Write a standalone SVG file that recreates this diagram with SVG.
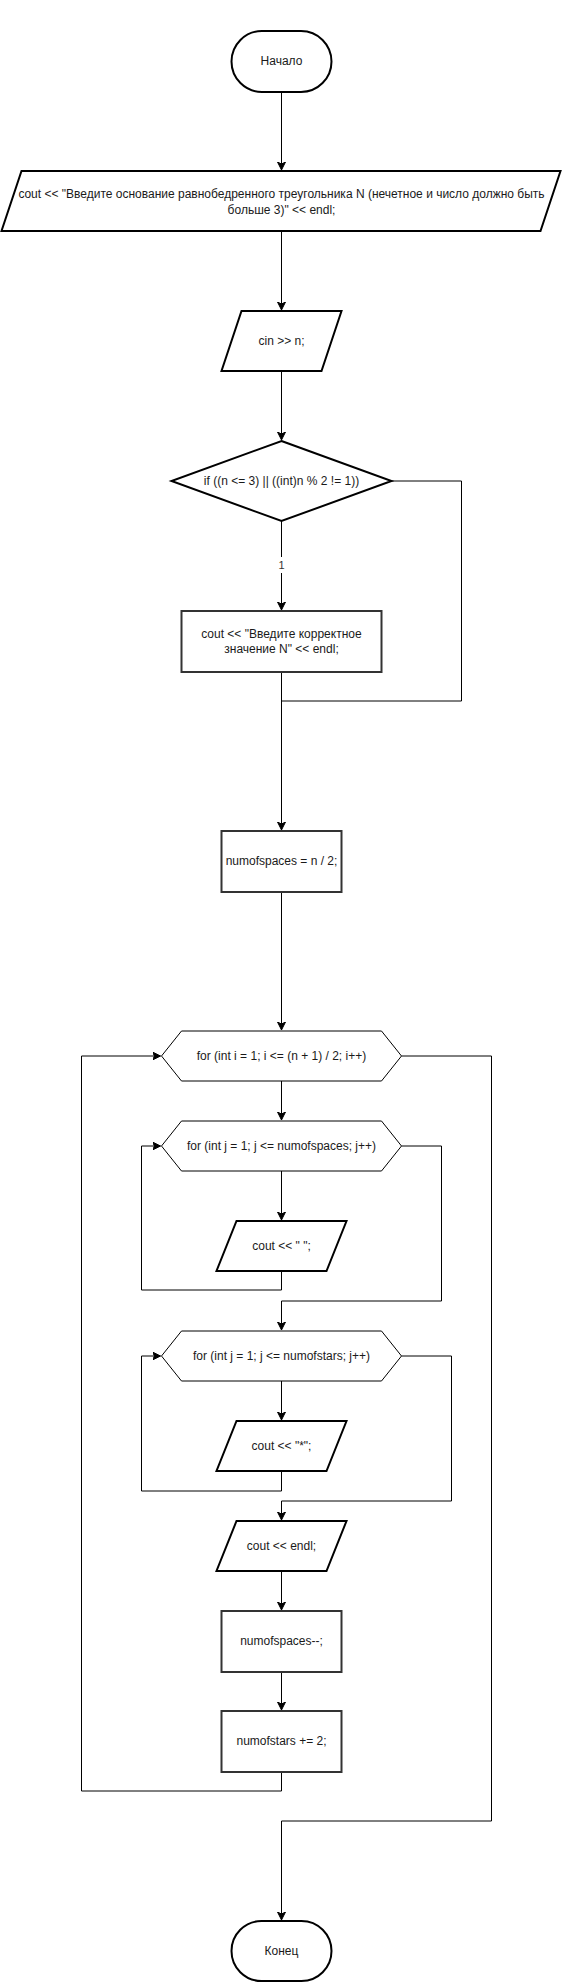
<svg xmlns="http://www.w3.org/2000/svg" width="572" height="1982" viewBox="0 0 572 1982">
<style>
.bg{fill:#ffffff}
.sh{fill:#ffffff;stroke:#000000;stroke-width:2}
.bx{fill:#ffffff;stroke:#333333;stroke-width:2}
.hx{fill:#ffffff;stroke:#000000;stroke-width:1}
.t{font-family:"Liberation Sans",Arial,sans-serif;font-size:12px;fill:#1a1a1a;text-anchor:middle;dominant-baseline:central}
.lb{font-family:"Liberation Sans",Arial,sans-serif;font-size:11px;fill:#333333;text-anchor:middle;dominant-baseline:central}
.c{fill:none;stroke:#000000;stroke-width:1}
</style>
<defs>
<marker id="arr" markerWidth="10" markerHeight="10" refX="8" refY="4" orient="auto" markerUnits="userSpaceOnUse">
<path d="M0,0 L8,4 L0,8 L2,4 Z" fill="#000000" stroke="#000000" stroke-width="1"/>
</marker>
</defs>
<rect class="bg" x="0" y="0" width="572" height="1982"/>
<g transform="translate(1.5,0)">
<g id="connectors">
<path class="c" d="M280,92 V170" marker-end="url(#arr)"/>
<path class="c" d="M280,231 V310" marker-end="url(#arr)"/>
<path class="c" d="M280,371 V440" marker-end="url(#arr)"/>
<path class="c" d="M280,521 V610" marker-end="url(#arr)"/>
<path class="c" d="M390,481 H460 V701 H280"/>
<path class="c" d="M280,672 V830" marker-end="url(#arr)"/>
<path class="c" d="M280,892 V1030" marker-end="url(#arr)"/>
<path class="c" d="M280,1081 V1120" marker-end="url(#arr)"/>
<path class="c" d="M280,1171 V1220" marker-end="url(#arr)"/>
<path class="c" d="M280,1271 V1290 H140 V1146 H159" marker-end="url(#arr)"/>
<path class="c" d="M400,1146 H440 V1301 H280 V1330" marker-end="url(#arr)"/>
<path class="c" d="M280,1381 V1420" marker-end="url(#arr)"/>
<path class="c" d="M280,1471 V1491 H140 V1356 H159" marker-end="url(#arr)"/>
<path class="c" d="M400,1356 H450 V1501 H280 V1520" marker-end="url(#arr)"/>
<path class="c" d="M280,1571 V1610" marker-end="url(#arr)"/>
<path class="c" d="M280,1672 V1710" marker-end="url(#arr)"/>
<path class="c" d="M280,1772 V1791 H80 V1056 H159" marker-end="url(#arr)"/>
<path class="c" d="M400,1056 H490 V1821 H280 V1920" marker-end="url(#arr)"/>
<rect x="275" y="557" width="10" height="16" fill="#ffffff"/>
<text class="lb" x="280" y="565">1</text>
</g>

<g id="start">
<rect class="sh" x="230" y="31" width="100" height="61" rx="30.5" ry="30.5"/>
<text class="t" x="280" y="61">Начало</text>
</g>

<g id="prompt">
<polygon class="sh" points="20,171 559,171 539,231 0,231"/>
<text class="t" x="280" y="194">cout &lt;&lt; "Введите основание равнобедренного треугольника N (нечетное и число должно быть</text>
<text class="t" x="280" y="210">больше 3)" &lt;&lt; endl;</text>
</g>

<g id="input">
<polygon class="sh" points="240,311 340,311 320,371 220,371"/>
<text class="t" x="280" y="341">cin &gt;&gt; n;</text>
</g>

<g id="check">
<polygon class="sh" points="280,441 390,481 280,521 170,481"/>
<text class="t" x="280" y="481">if ((n &lt;= 3) || ((int)n % 2 != 1))</text>
</g>

<g id="error">
<rect class="bx" x="180" y="611" width="200" height="61"/>
<text class="t" x="280" y="634">cout &lt;&lt; "Введите корректное</text>
<text class="t" x="280" y="649">значение N" &lt;&lt; endl;</text>
</g>

<g id="init">
<rect class="bx" x="220" y="831" width="120" height="61"/>
<text class="t" x="280" y="861">numofspaces = n / 2;</text>
</g>

<g id="loop-i">
<polygon class="hx" points="180,1031 380,1031 400,1056 380,1081 180,1081 160,1056"/>
<text class="t" x="280" y="1056">for (int i = 1; i &lt;= (n + 1) / 2; i++)</text>
</g>

<g id="loop-spaces">
<polygon class="hx" points="180,1121 380,1121 400,1146 380,1171 180,1171 160,1146"/>
<text class="t" x="280" y="1146">for (int j = 1; j &lt;= numofspaces; j++)</text>
</g>

<g id="print-space">
<polygon class="sh" points="235,1221 345,1221 325,1271 215,1271"/>
<text class="t" x="280" y="1246">cout &lt;&lt; " ";</text>
</g>

<g id="loop-stars">
<polygon class="hx" points="180,1331 380,1331 400,1356 380,1381 180,1381 160,1356"/>
<text class="t" x="280" y="1356">for (int j = 1; j &lt;= numofstars; j++)</text>
</g>

<g id="print-star">
<polygon class="sh" points="235,1421 345,1421 325,1471 215,1471"/>
<text class="t" x="280" y="1446">cout &lt;&lt; "*";</text>
</g>

<g id="print-endl">
<polygon class="sh" points="235,1521 345,1521 325,1571 215,1571"/>
<text class="t" x="280" y="1546">cout &lt;&lt; endl;</text>
</g>

<g id="dec-spaces">
<rect class="bx" x="220" y="1611" width="120" height="61"/>
<text class="t" x="280" y="1641">numofspaces--;</text>
</g>

<g id="inc-stars">
<rect class="bx" x="220" y="1711" width="120" height="61"/>
<text class="t" x="280" y="1741">numofstars += 2;</text>
</g>

<g id="end">
<rect class="sh" x="230" y="1921" width="100" height="60" rx="30" ry="30"/>
<text class="t" x="280" y="1951">Конец</text>
</g>
</g>
</svg>
